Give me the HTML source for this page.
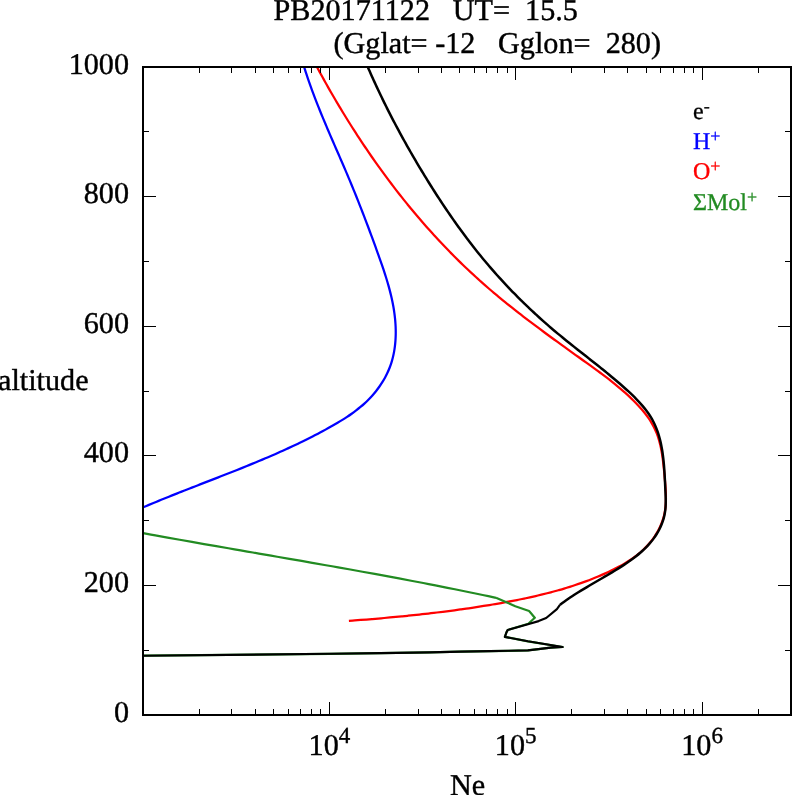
<!DOCTYPE html>
<html><head><meta charset="utf-8"><title>Ne profile</title>
<style>
html,body{margin:0;padding:0;background:#fff;}
body{width:792px;height:795px;overflow:hidden;font-family:"Liberation Serif",serif;}
svg{display:block;will-change:transform;}
text{text-rendering:geometricPrecision;white-space:pre;}
</style></head><body>
<svg width="792" height="795" viewBox="0 0 792 795">
<rect width="792" height="795" fill="#fff"/>
<g fill="none" stroke-linejoin="round" stroke-linecap="butt">
<path d="M304.00 66.50 C304.28 67.39 305.10 70.05 305.67 71.82 C306.24 73.59 306.83 75.36 307.42 77.12 C308.01 78.89 308.61 80.65 309.23 82.40 C309.84 84.16 310.46 85.91 311.10 87.66 C311.73 89.41 312.37 91.16 313.02 92.90 C313.67 94.65 314.33 96.39 315.00 98.13 C315.66 99.87 316.34 101.60 317.02 103.34 C317.70 105.07 318.39 106.80 319.08 108.53 C319.78 110.26 320.48 111.99 321.18 113.71 C321.89 115.44 322.60 117.16 323.32 118.88 C324.03 120.60 324.75 122.32 325.48 124.04 C326.20 125.76 326.93 127.47 327.66 129.19 C328.39 130.90 329.13 132.61 329.86 134.32 C330.60 136.04 331.34 137.75 332.08 139.46 C332.82 141.17 333.56 142.87 334.30 144.58 C335.04 146.29 335.78 148.00 336.53 149.70 C337.27 151.41 338.01 153.11 338.75 154.82 C339.50 156.52 340.24 158.23 340.98 159.93 C341.71 161.64 342.45 163.34 343.19 165.05 C343.92 166.75 344.66 168.46 345.38 170.16 C346.11 171.87 346.84 173.57 347.56 175.28 C348.28 176.98 349.00 178.69 349.72 180.39 C350.43 182.10 351.14 183.81 351.84 185.52 C352.55 187.22 353.25 188.93 353.95 190.64 C354.64 192.35 355.34 194.06 356.03 195.78 C356.72 197.49 357.40 199.20 358.08 200.92 C358.76 202.63 359.44 204.35 360.12 206.07 C360.79 207.78 361.47 209.50 362.13 211.22 C362.80 212.95 363.47 214.67 364.13 216.39 C364.80 218.12 365.46 219.85 366.11 221.58 C366.77 223.31 367.43 225.04 368.08 226.77 C368.73 228.51 369.38 230.25 370.03 231.99 C370.68 233.73 371.32 235.47 371.97 237.21 C372.61 238.96 373.25 240.71 373.89 242.46 C374.53 244.21 375.17 245.96 375.81 247.72 C376.45 249.48 377.08 251.24 377.72 253.01 C378.35 254.77 378.98 256.54 379.61 258.31 C380.24 260.08 380.86 261.86 381.48 263.64 C382.09 265.42 382.70 267.20 383.30 268.98 C383.90 270.77 384.49 272.56 385.06 274.35 C385.64 276.15 386.20 277.94 386.75 279.75 C387.29 281.55 387.83 283.35 388.34 285.16 C388.85 286.97 389.35 288.78 389.82 290.60 C390.29 292.42 390.75 294.24 391.17 296.06 C391.60 297.89 392.01 299.72 392.38 301.55 C392.76 303.38 393.11 305.22 393.44 307.06 C393.76 308.90 394.05 310.75 394.31 312.60 C394.57 314.45 394.80 316.30 394.99 318.16 C395.18 320.02 395.34 321.88 395.46 323.75 C395.58 325.62 395.67 327.49 395.71 329.36 C395.75 331.23 395.75 333.10 395.71 334.97 C395.67 336.84 395.59 338.70 395.45 340.56 C395.32 342.41 395.15 344.27 394.92 346.11 C394.70 347.95 394.42 349.78 394.10 351.60 C393.77 353.41 393.40 355.22 392.96 357.00 C392.53 358.79 392.05 360.56 391.51 362.31 C390.96 364.06 390.36 365.79 389.71 367.49 C389.05 369.20 388.33 370.88 387.56 372.54 C386.80 374.20 385.97 375.83 385.10 377.44 C384.23 379.05 383.30 380.63 382.33 382.19 C381.36 383.74 380.34 385.27 379.28 386.77 C378.22 388.27 377.11 389.74 375.96 391.19 C374.82 392.63 373.63 394.04 372.41 395.42 C371.18 396.80 369.92 398.15 368.63 399.47 C367.33 400.79 366.00 402.07 364.64 403.32 C363.28 404.57 361.89 405.79 360.47 406.97 C359.06 408.16 357.61 409.31 356.15 410.44 C354.68 411.56 353.18 412.66 351.67 413.73 C350.16 414.80 348.63 415.85 347.08 416.87 C345.53 417.90 343.96 418.90 342.38 419.88 C340.80 420.87 339.20 421.83 337.60 422.78 C336.00 423.74 334.38 424.67 332.76 425.59 C331.13 426.52 329.50 427.43 327.87 428.33 C326.24 429.23 324.60 430.13 322.96 431.01 C321.31 431.89 319.67 432.77 318.02 433.64 C316.37 434.50 314.71 435.36 313.05 436.21 C311.39 437.06 309.73 437.90 308.07 438.73 C306.40 439.57 304.73 440.39 303.06 441.21 C301.38 442.03 299.71 442.84 298.03 443.64 C296.35 444.44 294.67 445.24 292.98 446.03 C291.29 446.82 289.60 447.60 287.91 448.38 C286.22 449.16 284.52 449.93 282.83 450.69 C281.13 451.45 279.43 452.21 277.73 452.97 C276.02 453.72 274.32 454.47 272.61 455.21 C270.90 455.95 269.19 456.69 267.48 457.42 C265.77 458.15 264.05 458.88 262.34 459.60 C260.62 460.33 258.90 461.04 257.18 461.76 C255.46 462.47 253.74 463.19 252.02 463.89 C250.29 464.60 248.57 465.30 246.84 466.00 C245.12 466.70 243.39 467.40 241.66 468.10 C239.93 468.79 238.20 469.48 236.47 470.17 C234.74 470.86 233.01 471.55 231.28 472.23 C229.55 472.92 227.81 473.60 226.08 474.28 C224.34 474.96 222.61 475.64 220.88 476.32 C219.14 477.00 217.41 477.68 215.67 478.35 C213.93 479.03 212.20 479.70 210.46 480.38 C208.73 481.05 206.99 481.73 205.26 482.40 C203.52 483.07 201.79 483.75 200.05 484.42 C198.32 485.10 196.58 485.77 194.85 486.45 C193.12 487.12 191.38 487.80 189.65 488.48 C187.92 489.15 186.19 489.83 184.46 490.51 C182.72 491.19 181.00 491.87 179.27 492.55 C177.54 493.24 175.81 493.92 174.08 494.61 C172.36 495.30 170.63 495.99 168.91 496.68 C167.19 497.37 165.47 498.06 163.75 498.76 C162.03 499.46 160.31 500.16 158.59 500.86 C156.88 501.57 155.16 502.28 153.45 502.99 C151.74 503.70 150.03 504.41 148.32 505.13 C146.61 505.85 144.06 506.94 143.20 507.30" stroke="#0000ff" stroke-width="2.25"/>
<path d="M316.70 66.50 C317.16 67.36 318.55 69.95 319.48 71.67 C320.42 73.39 321.36 75.10 322.30 76.82 C323.25 78.53 324.20 80.25 325.15 81.96 C326.11 83.67 327.07 85.37 328.03 87.08 C329.00 88.79 329.97 90.49 330.95 92.19 C331.93 93.89 332.91 95.59 333.90 97.28 C334.89 98.98 335.88 100.67 336.88 102.36 C337.88 104.05 338.89 105.74 339.90 107.43 C340.91 109.11 341.92 110.79 342.95 112.47 C343.97 114.15 344.99 115.82 346.03 117.50 C347.06 119.17 348.10 120.84 349.14 122.51 C350.19 124.17 351.24 125.84 352.29 127.50 C353.35 129.16 354.41 130.81 355.48 132.47 C356.54 134.12 357.62 135.77 358.69 137.42 C359.77 139.06 360.85 140.70 361.94 142.34 C363.03 143.98 364.13 145.62 365.23 147.25 C366.33 148.88 367.44 150.51 368.55 152.13 C369.66 153.76 370.78 155.38 371.90 156.99 C373.03 158.61 374.16 160.22 375.29 161.83 C376.43 163.44 377.57 165.04 378.71 166.64 C379.86 168.24 381.01 169.84 382.17 171.43 C383.33 173.02 384.49 174.61 385.66 176.19 C386.83 177.77 388.01 179.35 389.19 180.93 C390.37 182.50 391.56 184.07 392.76 185.63 C393.95 187.20 395.15 188.76 396.35 190.31 C397.56 191.87 398.77 193.42 399.99 194.96 C401.20 196.51 402.43 198.05 403.65 199.59 C404.88 201.12 406.12 202.65 407.36 204.18 C408.60 205.70 409.85 207.22 411.10 208.74 C412.35 210.26 413.61 211.77 414.87 213.27 C416.14 214.78 417.41 216.27 418.68 217.77 C419.96 219.26 421.24 220.75 422.53 222.23 C423.82 223.72 425.11 225.20 426.41 226.67 C427.71 228.14 429.02 229.61 430.33 231.07 C431.65 232.53 432.96 233.98 434.29 235.43 C435.61 236.88 436.94 238.32 438.28 239.76 C439.62 241.20 440.96 242.63 442.31 244.05 C443.66 245.48 445.01 246.90 446.38 248.31 C447.74 249.72 449.10 251.13 450.48 252.53 C451.85 253.93 453.23 255.32 454.62 256.71 C456.00 258.10 457.39 259.48 458.79 260.86 C460.19 262.23 461.59 263.60 463.01 264.96 C464.42 266.32 465.83 267.68 467.26 269.02 C468.68 270.37 470.11 271.71 471.54 273.05 C472.98 274.38 474.42 275.71 475.87 277.03 C477.32 278.35 478.77 279.66 480.23 280.97 C481.69 282.28 483.16 283.58 484.63 284.87 C486.10 286.16 487.58 287.45 489.07 288.73 C490.55 290.00 492.04 291.28 493.54 292.54 C495.04 293.81 496.54 295.07 498.05 296.32 C499.55 297.57 501.06 298.82 502.58 300.06 C504.10 301.31 505.62 302.54 507.15 303.77 C508.68 305.00 510.21 306.23 511.75 307.45 C513.28 308.67 514.82 309.89 516.37 311.10 C517.91 312.31 519.46 313.52 521.01 314.72 C522.57 315.92 524.12 317.12 525.68 318.32 C527.25 319.51 528.81 320.70 530.38 321.89 C531.94 323.08 533.51 324.26 535.09 325.44 C536.66 326.62 538.24 327.80 539.82 328.97 C541.40 330.15 542.98 331.32 544.56 332.49 C546.15 333.66 547.74 334.82 549.32 335.99 C550.91 337.15 552.51 338.31 554.10 339.47 C555.69 340.63 557.29 341.79 558.88 342.95 C560.48 344.11 562.08 345.26 563.68 346.42 C565.28 347.57 566.88 348.72 568.48 349.88 C570.08 351.03 571.69 352.18 573.29 353.33 C574.89 354.48 576.50 355.63 578.10 356.78 C579.71 357.93 581.31 359.08 582.92 360.23 C584.52 361.38 586.13 362.53 587.73 363.69 C589.34 364.84 590.94 365.99 592.54 367.15 C594.14 368.30 595.74 369.46 597.34 370.63 C598.93 371.80 600.52 372.96 602.10 374.14 C603.68 375.32 605.26 376.51 606.82 377.70 C608.39 378.90 609.95 380.10 611.49 381.32 C613.03 382.54 614.57 383.76 616.09 385.01 C617.61 386.25 619.12 387.50 620.62 388.77 C622.11 390.05 623.59 391.33 625.05 392.64 C626.51 393.94 627.96 395.26 629.38 396.61 C630.81 397.95 632.21 399.31 633.60 400.69 C634.98 402.08 636.35 403.48 637.69 404.91 C639.02 406.34 640.34 407.80 641.61 409.28 C642.89 410.76 644.13 412.26 645.32 413.79 C646.51 415.33 647.66 416.89 648.75 418.48 C649.84 420.07 650.88 421.69 651.85 423.35 C652.82 425.00 653.73 426.69 654.56 428.41 C655.39 430.13 656.15 431.88 656.84 433.67 C657.53 435.45 658.14 437.27 658.71 439.12 C659.27 440.96 659.76 442.84 660.22 444.73 C660.67 446.62 661.07 448.54 661.43 450.48 C661.79 452.41 662.11 454.37 662.40 456.34 C662.69 458.31 662.94 460.30 663.18 462.29 C663.42 464.28 663.63 466.29 663.83 468.30 C664.04 470.31 664.22 472.34 664.41 474.36 C664.59 476.38 664.78 478.40 664.95 480.42 C665.13 482.44 665.31 484.47 665.45 486.48 C665.59 488.49 665.72 490.51 665.80 492.50 C665.88 494.50 665.94 496.49 665.92 498.47 C665.91 500.44 665.86 502.40 665.72 504.34 C665.59 506.29 665.40 508.21 665.11 510.11 C664.82 512.01 664.45 513.90 663.99 515.75 C663.53 517.60 662.98 519.43 662.35 521.23 C661.72 523.03 661.00 524.80 660.21 526.53 C659.42 528.27 658.55 529.98 657.61 531.64 C656.67 533.31 655.66 534.95 654.58 536.54 C653.51 538.14 652.36 539.69 651.16 541.21 C649.97 542.72 648.70 544.20 647.39 545.62 C646.07 547.05 644.70 548.43 643.29 549.77 C641.87 551.10 640.40 552.38 638.89 553.62 C637.39 554.87 635.83 556.06 634.25 557.22 C632.66 558.37 631.04 559.48 629.38 560.56 C627.73 561.64 626.04 562.67 624.33 563.68 C622.62 564.69 620.88 565.66 619.13 566.60 C617.38 567.55 615.60 568.46 613.81 569.35 C612.02 570.24 610.22 571.10 608.41 571.94 C606.60 572.78 604.78 573.59 602.96 574.39 C601.14 575.19 599.31 575.97 597.48 576.73 C595.65 577.49 593.81 578.23 591.97 578.96 C590.13 579.68 588.29 580.39 586.44 581.08 C584.59 581.77 582.74 582.44 580.88 583.09 C579.03 583.75 577.17 584.38 575.30 585.01 C573.44 585.63 571.57 586.24 569.70 586.83 C567.83 587.42 565.95 588.00 564.07 588.56 C562.20 589.13 560.31 589.67 558.43 590.21 C556.54 590.75 554.65 591.27 552.76 591.78 C550.87 592.29 548.98 592.78 547.08 593.27 C545.18 593.75 543.28 594.23 541.38 594.69 C539.47 595.15 537.57 595.60 535.66 596.04 C533.75 596.48 531.84 596.91 529.93 597.33 C528.02 597.76 526.10 598.17 524.18 598.57 C522.26 598.97 520.35 599.36 518.42 599.75 C516.50 600.14 514.58 600.51 512.65 600.89 C510.73 601.26 508.80 601.62 506.87 601.98 C504.94 602.33 503.01 602.68 501.08 603.03 C499.15 603.37 497.22 603.71 495.28 604.05 C493.35 604.38 491.41 604.71 489.48 605.03 C487.54 605.35 485.60 605.67 483.66 605.98 C481.72 606.29 479.78 606.60 477.84 606.90 C475.90 607.20 473.96 607.49 472.02 607.78 C470.07 608.08 468.13 608.36 466.18 608.64 C464.24 608.92 462.29 609.20 460.34 609.47 C458.39 609.74 456.45 610.01 454.50 610.27 C452.55 610.53 450.60 610.79 448.65 611.04 C446.70 611.29 444.75 611.54 442.79 611.78 C440.84 612.03 438.89 612.27 436.94 612.50 C434.98 612.74 433.03 612.97 431.07 613.20 C429.12 613.43 427.16 613.65 425.21 613.87 C423.25 614.09 421.30 614.31 419.34 614.52 C417.39 614.73 415.43 614.94 413.47 615.15 C411.52 615.35 409.56 615.56 407.60 615.76 C405.65 615.95 403.69 616.15 401.73 616.34 C399.77 616.54 397.82 616.72 395.86 616.91 C393.90 617.10 391.94 617.28 389.98 617.46 C388.03 617.64 386.07 617.82 384.11 618.00 C382.15 618.17 380.20 618.34 378.24 618.51 C376.28 618.68 374.32 618.85 372.37 619.02 C370.41 619.18 368.45 619.35 366.50 619.51 C364.54 619.67 362.58 619.83 360.63 619.98 C358.67 620.14 356.72 620.29 354.76 620.45 C352.81 620.60 349.88 620.82 348.90 620.90" stroke="#ff0000" stroke-width="2.25"/>
<path d="M143.20 533.20 C145.23 533.57 151.31 534.67 155.37 535.41 C159.43 536.14 163.48 536.87 167.54 537.59 C171.60 538.32 175.66 539.04 179.72 539.76 C183.78 540.48 187.84 541.20 191.90 541.91 C195.96 542.63 200.02 543.34 204.08 544.05 C208.14 544.76 212.20 545.47 216.27 546.17 C220.33 546.88 224.39 547.59 228.45 548.29 C232.51 548.99 236.58 549.70 240.64 550.40 C244.70 551.10 248.77 551.80 252.83 552.51 C256.89 553.21 260.96 553.91 265.02 554.61 C269.08 555.31 273.15 556.02 277.21 556.72 C281.27 557.42 285.33 558.13 289.40 558.83 C293.46 559.54 297.52 560.24 301.58 560.95 C305.65 561.66 309.71 562.36 313.77 563.07 C317.83 563.79 321.89 564.50 325.95 565.21 C330.01 565.93 334.07 566.64 338.13 567.36 C342.19 568.09 346.25 568.81 350.31 569.53 C354.37 570.26 358.43 570.99 362.48 571.72 C366.54 572.46 370.60 573.19 374.65 573.93 C378.71 574.67 382.76 575.42 386.82 576.17 C390.87 576.92 394.93 577.67 398.98 578.43 C403.03 579.19 407.08 579.95 411.13 580.72 C415.18 581.49 419.23 582.26 423.28 583.04 C427.33 583.82 431.37 584.61 435.42 585.40 C439.46 586.19 443.51 586.99 447.55 587.80 C451.59 588.60 455.64 589.41 459.68 590.23 C463.72 591.05 467.76 591.87 471.79 592.71 C475.83 593.54 479.87 594.38 483.90 595.23 C487.94 596.08 493.98 597.37 496.00 597.80" stroke="#228b22" stroke-width="2.2"/>
<path d="M496.00 597.80 L506.40 602.20 L515.30 606.20 L529.10 611.00 L534.80 617.70 L528.30 623.80 L507.70 630.00 L506.40 632.50 L504.90 636.90 L527.90 641.30 L562.60 647.00 L550.60 647.60 L540.50 648.90 L527.90 650.40 L508.90 650.80 L490.00 651.10 L460.50 651.60 L429.70 652.40 L380.50 653.10 L330.00 653.80 L143.00 655.70" stroke="#228b22" stroke-width="2.2"/>
<path d="M367.60 66.50 C367.93 67.26 368.92 69.55 369.59 71.07 C370.25 72.59 370.93 74.12 371.60 75.64 C372.28 77.16 372.96 78.67 373.65 80.19 C374.34 81.71 375.04 83.23 375.74 84.74 C376.44 86.26 377.14 87.77 377.85 89.28 C378.56 90.79 379.27 92.30 379.99 93.81 C380.71 95.32 381.44 96.83 382.17 98.33 C382.90 99.84 383.63 101.35 384.37 102.85 C385.11 104.35 385.86 105.85 386.61 107.35 C387.36 108.85 388.11 110.35 388.87 111.84 C389.63 113.34 390.39 114.83 391.16 116.33 C391.93 117.82 392.70 119.31 393.48 120.80 C394.26 122.28 395.04 123.77 395.82 125.25 C396.61 126.74 397.40 128.22 398.20 129.70 C398.99 131.18 399.79 132.66 400.59 134.14 C401.40 135.61 402.20 137.09 403.01 138.56 C403.83 140.03 404.64 141.50 405.46 142.97 C406.28 144.44 407.10 145.90 407.93 147.36 C408.76 148.83 409.59 150.29 410.43 151.75 C411.26 153.20 412.10 154.66 412.94 156.11 C413.79 157.57 414.63 159.02 415.48 160.46 C416.33 161.91 417.19 163.36 418.05 164.80 C418.90 166.24 419.76 167.69 420.63 169.12 C421.49 170.56 422.36 172.00 423.23 173.43 C424.10 174.86 424.98 176.29 425.85 177.72 C426.73 179.15 427.61 180.57 428.50 181.99 C429.38 183.41 430.27 184.83 431.16 186.25 C432.05 187.66 432.95 189.07 433.84 190.48 C434.74 191.89 435.64 193.30 436.55 194.70 C437.45 196.11 438.36 197.51 439.28 198.91 C440.19 200.30 441.11 201.70 442.03 203.09 C442.95 204.48 443.87 205.87 444.80 207.25 C445.73 208.64 446.66 210.02 447.60 211.40 C448.54 212.77 449.48 214.15 450.43 215.52 C451.38 216.89 452.33 218.26 453.28 219.62 C454.24 220.99 455.20 222.35 456.17 223.71 C457.13 225.06 458.10 226.42 459.08 227.77 C460.06 229.12 461.04 230.47 462.02 231.81 C463.01 233.15 464.00 234.49 465.00 235.83 C465.99 237.16 467.00 238.49 468.00 239.82 C469.01 241.15 470.02 242.47 471.04 243.80 C472.06 245.12 473.09 246.43 474.12 247.74 C475.15 249.06 476.18 250.37 477.23 251.67 C478.27 252.98 479.32 254.28 480.37 255.57 C481.43 256.87 482.49 258.16 483.56 259.45 C484.62 260.74 485.70 262.02 486.78 263.30 C487.86 264.58 488.94 265.86 490.04 267.13 C491.13 268.40 492.23 269.67 493.34 270.93 C494.44 272.20 495.56 273.46 496.68 274.71 C497.80 275.96 498.93 277.21 500.06 278.46 C501.19 279.70 502.33 280.95 503.48 282.18 C504.63 283.42 505.78 284.65 506.94 285.87 C508.10 287.10 509.26 288.32 510.44 289.54 C511.61 290.76 512.78 291.97 513.96 293.17 C515.15 294.38 516.33 295.58 517.53 296.78 C518.72 297.97 519.92 299.16 521.12 300.35 C522.32 301.53 523.53 302.71 524.74 303.89 C525.96 305.06 527.18 306.23 528.40 307.39 C529.62 308.56 530.85 309.72 532.08 310.87 C533.31 312.02 534.54 313.16 535.78 314.30 C537.02 315.44 538.26 316.58 539.51 317.71 C540.75 318.83 542.00 319.95 543.26 321.07 C544.51 322.18 545.77 323.29 547.03 324.40 C548.29 325.50 549.55 326.60 550.82 327.68 C552.08 328.77 553.35 329.86 554.62 330.93 C555.90 332.01 557.17 333.08 558.45 334.14 C559.72 335.21 561.00 336.26 562.28 337.31 C563.57 338.36 564.85 339.41 566.13 340.45 C567.42 341.49 568.71 342.52 569.99 343.55 C571.28 344.59 572.57 345.61 573.87 346.64 C575.16 347.66 576.45 348.68 577.74 349.71 C579.04 350.73 580.33 351.75 581.63 352.77 C582.93 353.79 584.22 354.80 585.52 355.82 C586.82 356.84 588.12 357.86 589.41 358.89 C590.71 359.91 592.01 360.93 593.31 361.96 C594.61 362.98 595.91 364.01 597.21 365.05 C598.50 366.08 599.80 367.12 601.10 368.16 C602.40 369.20 603.70 370.25 604.99 371.30 C606.29 372.36 607.58 373.42 608.88 374.48 C610.17 375.55 611.47 376.62 612.76 377.71 C614.05 378.79 615.35 379.88 616.64 380.98 C617.93 382.08 619.21 383.19 620.50 384.31 C621.79 385.43 623.07 386.56 624.36 387.70 C625.64 388.85 626.92 390.00 628.18 391.16 C629.45 392.33 630.71 393.51 631.95 394.70 C633.19 395.90 634.43 397.10 635.63 398.33 C636.83 399.55 638.02 400.79 639.17 402.04 C640.32 403.30 641.45 404.57 642.54 405.86 C643.63 407.15 644.70 408.45 645.71 409.78 C646.73 411.11 647.71 412.45 648.64 413.82 C649.57 415.18 650.46 416.57 651.30 417.98 C652.13 419.38 652.91 420.81 653.64 422.26 C654.37 423.71 655.05 425.18 655.68 426.67 C656.31 428.16 656.89 429.67 657.44 431.20 C657.98 432.73 658.48 434.28 658.94 435.84 C659.40 437.40 659.82 438.98 660.21 440.58 C660.60 442.17 660.95 443.78 661.28 445.40 C661.60 447.03 661.89 448.67 662.16 450.32 C662.43 451.96 662.67 453.63 662.89 455.30 C663.11 456.97 663.31 458.66 663.49 460.35 C663.66 462.04 663.82 463.74 663.97 465.44 C664.11 467.15 664.24 468.86 664.36 470.57 C664.48 472.29 664.58 474.00 664.68 475.72 C664.78 477.44 664.86 479.16 664.95 480.88 C665.04 482.60 665.11 484.31 665.19 486.03 C665.27 487.74 665.36 489.45 665.43 491.15 C665.51 492.86 665.59 494.56 665.64 496.25 C665.69 497.94 665.74 499.62 665.73 501.29 C665.72 502.96 665.70 504.62 665.60 506.27 C665.50 507.92 665.37 509.56 665.14 511.18 C664.92 512.80 664.64 514.41 664.27 515.99 C663.91 517.58 663.47 519.15 662.96 520.70 C662.45 522.25 661.88 523.78 661.24 525.29 C660.60 526.80 659.90 528.28 659.14 529.74 C658.38 531.19 657.56 532.63 656.69 534.03 C655.82 535.43 654.89 536.80 653.92 538.14 C652.95 539.48 651.93 540.79 650.87 542.07 C649.81 543.35 648.70 544.59 647.55 545.80 C646.41 547.01 645.23 548.19 644.01 549.35 C642.80 550.50 641.55 551.62 640.28 552.72 C639.00 553.82 637.70 554.89 636.37 555.94 C635.05 556.99 633.70 558.02 632.33 559.03 C630.97 560.03 629.58 561.02 628.18 561.99 C626.79 562.95 625.37 563.90 623.96 564.84 C622.54 565.77 621.12 566.69 619.69 567.59 C618.26 568.50 616.83 569.39 615.40 570.27 C613.97 571.15 612.53 572.02 611.09 572.89 C609.65 573.75 608.21 574.60 606.78 575.45 C605.34 576.30 603.89 577.15 602.45 577.99 C601.01 578.83 599.57 579.66 598.13 580.50 C596.69 581.34 595.26 582.17 593.82 583.01 C592.38 583.85 590.95 584.69 589.51 585.53 C588.08 586.37 586.65 587.22 585.23 588.08 C583.80 588.93 582.38 589.79 580.96 590.66 C579.54 591.53 578.12 592.41 576.71 593.30 C575.31 594.19 573.90 595.09 572.50 596.01 C571.11 596.93 569.71 597.86 568.33 598.81 C566.94 599.75 565.56 600.71 564.19 601.70 C562.82 602.68 560.78 604.20 560.10 604.71" stroke="#000" stroke-width="2.5"/>
<path d="M560.10 604.70 L556.90 609.10 L546.20 618.00 L538.60 621.10 L527.90 624.30 L507.70 630.00 L506.40 632.50 L504.90 636.90 L527.90 641.30 L562.60 647.00 L550.60 647.60 L540.50 648.90 L527.90 650.40 L508.90 650.80 L490.00 651.10 L460.50 651.60 L429.70 652.40 L380.50 653.10 L330.00 653.80 L143.00 655.70" stroke="#000" stroke-width="2.15"/>
</g>
<rect x="143.0" y="67.0" width="648.0" height="648.0" fill="none" stroke="#000" stroke-width="2"/>
<g stroke="#000" stroke-width="1" shape-rendering="crispEdges">
<line x1="143.0" y1="650.2" x2="149.4" y2="650.2"/>
<line x1="791.0" y1="650.2" x2="784.6" y2="650.2"/>
<line x1="143.0" y1="585.4" x2="155.8" y2="585.4"/>
<line x1="791.0" y1="585.4" x2="778.2" y2="585.4"/>
<line x1="143.0" y1="520.6" x2="149.4" y2="520.6"/>
<line x1="791.0" y1="520.6" x2="784.6" y2="520.6"/>
<line x1="143.0" y1="455.8" x2="155.8" y2="455.8"/>
<line x1="791.0" y1="455.8" x2="778.2" y2="455.8"/>
<line x1="143.0" y1="391.0" x2="149.4" y2="391.0"/>
<line x1="791.0" y1="391.0" x2="784.6" y2="391.0"/>
<line x1="143.0" y1="326.2" x2="155.8" y2="326.2"/>
<line x1="791.0" y1="326.2" x2="778.2" y2="326.2"/>
<line x1="143.0" y1="261.4" x2="149.4" y2="261.4"/>
<line x1="791.0" y1="261.4" x2="784.6" y2="261.4"/>
<line x1="143.0" y1="196.6" x2="155.8" y2="196.6"/>
<line x1="791.0" y1="196.6" x2="778.2" y2="196.6"/>
<line x1="143.0" y1="131.8" x2="149.4" y2="131.8"/>
<line x1="791.0" y1="131.8" x2="784.6" y2="131.8"/>
<line x1="199.1" y1="715.0" x2="199.1" y2="708.6"/>
<line x1="199.1" y1="67.0" x2="199.1" y2="73.4"/>
<line x1="231.9" y1="715.0" x2="231.9" y2="708.6"/>
<line x1="231.9" y1="67.0" x2="231.9" y2="73.4"/>
<line x1="255.2" y1="715.0" x2="255.2" y2="708.6"/>
<line x1="255.2" y1="67.0" x2="255.2" y2="73.4"/>
<line x1="273.3" y1="715.0" x2="273.3" y2="708.6"/>
<line x1="273.3" y1="67.0" x2="273.3" y2="73.4"/>
<line x1="288.0" y1="715.0" x2="288.0" y2="708.6"/>
<line x1="288.0" y1="67.0" x2="288.0" y2="73.4"/>
<line x1="300.5" y1="715.0" x2="300.5" y2="708.6"/>
<line x1="300.5" y1="67.0" x2="300.5" y2="73.4"/>
<line x1="311.3" y1="715.0" x2="311.3" y2="708.6"/>
<line x1="311.3" y1="67.0" x2="311.3" y2="73.4"/>
<line x1="320.8" y1="715.0" x2="320.8" y2="708.6"/>
<line x1="320.8" y1="67.0" x2="320.8" y2="73.4"/>
<line x1="329.4" y1="715.0" x2="329.4" y2="702.2"/>
<line x1="329.4" y1="67.0" x2="329.4" y2="79.8"/>
<line x1="385.5" y1="715.0" x2="385.5" y2="708.6"/>
<line x1="385.5" y1="67.0" x2="385.5" y2="73.4"/>
<line x1="418.3" y1="715.0" x2="418.3" y2="708.6"/>
<line x1="418.3" y1="67.0" x2="418.3" y2="73.4"/>
<line x1="441.6" y1="715.0" x2="441.6" y2="708.6"/>
<line x1="441.6" y1="67.0" x2="441.6" y2="73.4"/>
<line x1="459.6" y1="715.0" x2="459.6" y2="708.6"/>
<line x1="459.6" y1="67.0" x2="459.6" y2="73.4"/>
<line x1="474.4" y1="715.0" x2="474.4" y2="708.6"/>
<line x1="474.4" y1="67.0" x2="474.4" y2="73.4"/>
<line x1="486.9" y1="715.0" x2="486.9" y2="708.6"/>
<line x1="486.9" y1="67.0" x2="486.9" y2="73.4"/>
<line x1="497.7" y1="715.0" x2="497.7" y2="708.6"/>
<line x1="497.7" y1="67.0" x2="497.7" y2="73.4"/>
<line x1="507.2" y1="715.0" x2="507.2" y2="708.6"/>
<line x1="507.2" y1="67.0" x2="507.2" y2="73.4"/>
<line x1="515.7" y1="715.0" x2="515.7" y2="702.2"/>
<line x1="515.7" y1="67.0" x2="515.7" y2="79.8"/>
<line x1="571.8" y1="715.0" x2="571.8" y2="708.6"/>
<line x1="571.8" y1="67.0" x2="571.8" y2="73.4"/>
<line x1="604.6" y1="715.0" x2="604.6" y2="708.6"/>
<line x1="604.6" y1="67.0" x2="604.6" y2="73.4"/>
<line x1="627.9" y1="715.0" x2="627.9" y2="708.6"/>
<line x1="627.9" y1="67.0" x2="627.9" y2="73.4"/>
<line x1="646.0" y1="715.0" x2="646.0" y2="708.6"/>
<line x1="646.0" y1="67.0" x2="646.0" y2="73.4"/>
<line x1="660.7" y1="715.0" x2="660.7" y2="708.6"/>
<line x1="660.7" y1="67.0" x2="660.7" y2="73.4"/>
<line x1="673.2" y1="715.0" x2="673.2" y2="708.6"/>
<line x1="673.2" y1="67.0" x2="673.2" y2="73.4"/>
<line x1="684.0" y1="715.0" x2="684.0" y2="708.6"/>
<line x1="684.0" y1="67.0" x2="684.0" y2="73.4"/>
<line x1="693.6" y1="715.0" x2="693.6" y2="708.6"/>
<line x1="693.6" y1="67.0" x2="693.6" y2="73.4"/>
<line x1="702.1" y1="715.0" x2="702.1" y2="702.2"/>
<line x1="702.1" y1="67.0" x2="702.1" y2="79.8"/>
<line x1="758.2" y1="715.0" x2="758.2" y2="708.6"/>
<line x1="758.2" y1="67.0" x2="758.2" y2="73.4"/>
</g>
<g font-family="'Liberation Serif', serif" font-size="30.2" fill="#000" stroke="#000" stroke-width="0.4">
<text x="273.5" y="19.5" xml:space="preserve">PB20171122   UT=  15.5</text>
<text x="333.5" y="53" xml:space="preserve">(Gglat= -12   Gglon=  280)</text>
<text x="129" y="721.6" text-anchor="end">0</text>
<text x="129" y="592.0" text-anchor="end">200</text>
<text x="129" y="462.4" text-anchor="end">400</text>
<text x="129" y="332.8" text-anchor="end">600</text>
<text x="129" y="203.2" text-anchor="end">800</text>
<text x="129" y="73.6" text-anchor="end">1000</text>
<text x="329.4" y="755" text-anchor="middle">10<tspan font-size="23" dy="-11.8">4</tspan></text>
<text x="515.7" y="755" text-anchor="middle">10<tspan font-size="23" dy="-11.8">5</tspan></text>
<text x="702.1" y="755" text-anchor="middle">10<tspan font-size="23" dy="-11.8">6</tspan></text>
<text x="-2" y="390.3">altitude</text>
<text x="450" y="794.5">Ne</text>
</g>
<g font-family="'Liberation Serif', serif" font-size="24">
<text x="693" y="119.0" fill="#000" stroke="#000" stroke-width="0.3">e<tspan font-size="18" dy="-7">-</tspan></text>
<text x="693" y="149.0" fill="#0000ff" stroke="#0000ff" stroke-width="0.3">H<tspan font-size="18" dy="-7">+</tspan></text>
<text x="693" y="179.0" fill="#ff0000" stroke="#ff0000" stroke-width="0.3">O<tspan font-size="18" dy="-7">+</tspan></text>
<text x="693" y="210.0" fill="#228b22" stroke="#228b22" stroke-width="0.3">ΣMol<tspan font-size="18" dy="-7">+</tspan></text>
</g>
</svg>
</body></html>
